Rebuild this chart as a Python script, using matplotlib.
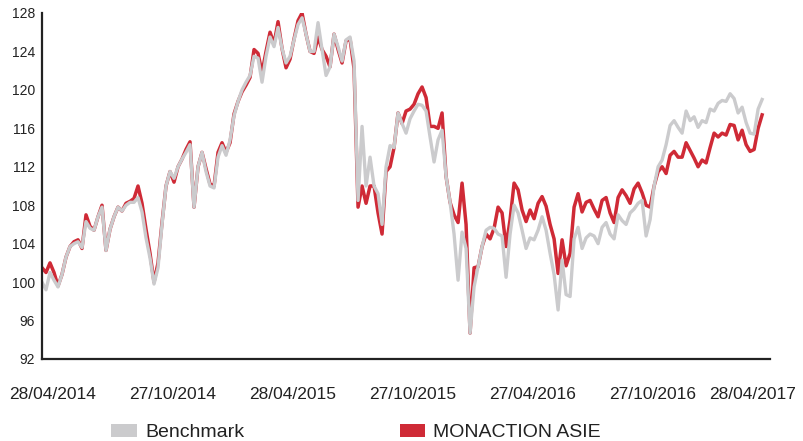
import matplotlib
matplotlib.use("Agg")
import matplotlib.pyplot as plt
import matplotlib.transforms as mtransforms
from matplotlib.patches import Patch
import pandas as pd

plt.rcParams['font.family'] = ['Liberation Sans', 'DejaVu Sans']

# values, one point roughly every 6 days
benchmark = [
    100, 99.2, 101, 100.2, 99.5, 100.8, 102.6, 103.7, 104, 104.2,
    103.6, 106.3, 105.6, 105.4, 106.8, 107.8, 103.3, 105.5, 106.8, 107.8,
    107.4, 108, 108.3, 108.3, 108.8, 107.3, 104.6, 102.5, 99.8, 101.5,
    106, 110, 111.5, 110.8, 112, 112.8, 113.5, 114.3, 107.8, 112,
    113.5, 111.5, 110, 109.8, 113, 114.2, 113.2, 114.8, 117.3, 118.8,
    120, 120.8, 121.5, 123.5, 123.3, 120.8, 123.5, 125.5, 124.5, 126.5,
    124.3, 122.8, 123.5, 125.2, 126.8, 127.5, 125.8, 124, 124, 127,
    124.2, 121.5, 122.4, 125.8, 124.5, 123, 125.2, 125.5, 123, 108.5,
    116.2, 110, 113, 110, 109.2, 106, 112, 114.2, 114, 117.6,
    116.5, 115.5, 117, 117.8, 118.5, 118.4, 117.8, 115.1, 112.5, 114.8,
    115.8, 111, 108.3, 105, 100.2, 105.2, 103.5, 94.7, 99.5, 101.6,
    103.7, 105.4, 105.7, 105.6, 105, 104.8, 100.5, 105, 108, 107.2,
    105.4, 103.5, 104.6, 104.4, 105.4, 106.8, 105.4, 103, 100.8, 97.1,
    102.3, 98.7, 98.5, 104.5, 105.7, 103.5, 104.6, 105, 104.8, 104,
    105.7, 106.2, 105, 104.5, 107, 106.4, 106, 107.2, 107.6, 108.2,
    108.5, 104.8, 106.5, 110, 112, 112.7, 114.3, 116.3, 116.8, 116.1,
    115.5, 117.8, 116.8, 117.2, 116.1, 116.8, 116.6, 118, 117.8, 118.6,
    118.9, 118.8, 119.6, 119.1, 117.6, 118.2, 116.6, 115.5, 115.4, 118,
    119,
]
monaction = [
    101.5, 101, 102, 101, 99.6, 100.8, 102.6, 103.7, 104.2, 104.4,
    103.5, 107, 105.8, 105.4, 106.8, 108, 103.3, 105.5, 106.8, 107.8,
    107.4, 108.2, 108.4, 108.7, 110, 108.2, 105.5, 103, 100, 102,
    106.2, 110, 111.5, 110.4, 112, 112.8, 113.8, 114.6, 107.8, 112,
    113.5, 111.8, 110.2, 110, 113.5, 114.5, 113.5, 114.5, 117.5, 118.8,
    119.8, 120.5, 121.3, 124.2, 123.8, 121.8, 124, 126, 124.8, 127.1,
    124.3, 122.3, 123.2, 125.3, 127.2, 128, 125.8, 124, 123.8, 125.5,
    124.2, 123.5, 122.4, 125.8, 124.2, 122.8, 125.1, 125.3, 122.2, 107.8,
    110, 108.2, 110, 110, 107.2, 105, 111.5, 112, 114, 117.6,
    116.5, 117.8, 118, 118.5, 119.6, 120.3, 119.2, 116.2, 116.2, 116,
    117.6, 111, 108.3, 107, 106.2, 110.3, 106, 94.7, 101.5, 101.6,
    103.7, 105, 104.5, 105.6, 107.8, 107.2, 103.7, 106.5, 110.3, 109.6,
    107.5, 106.3, 107.5, 106.6, 108.2, 108.9, 107.9, 106, 104.5, 100.9,
    104.4, 101.7, 103, 107.8, 109.2, 107.3, 108.3, 108.5, 107.6, 106.8,
    108.5, 108.8, 107.2, 106.2, 108.8, 109.6, 109, 108.2, 109.7, 110.3,
    109.3, 108, 107.8, 110, 111.5, 112, 111.3, 113.2, 113.6, 113,
    113, 114.5, 113.7, 112.9, 112, 112.7, 112.4, 114, 115.5, 115.1,
    115.5, 115.3, 116.4, 116.3, 114.8, 115.8, 114.3, 113.6, 113.8, 116,
    117.4,
]
tick_dates = ['2014-04-28', '2014-10-27', '2015-04-28', '2015-10-27',
              '2016-04-27', '2016-10-27', '2017-04-28']
tick_labels = ['28/04/2014', '27/10/2014', '28/04/2015', '27/10/2015',
               '27/04/2016', '27/10/2016', '28/04/2017']

dates = pd.date_range('2014-04-28', '2017-04-28', periods=len(benchmark))

red = '#cf2a36'
grey = '#cbcbcd'
ink = '#222222'

fig = plt.figure(figsize=(8.04, 4.41), dpi=100)
ax = fig.add_axes([42 / 804, 1 - 359 / 441, 728 / 804, 346 / 441])

ax.plot(dates, monaction, color=red, lw=2.5, solid_joinstyle='round')
ax.plot(dates, benchmark, color=grey, lw=2.4, solid_joinstyle='round')

ax.set_ylim(92, 128)
ax.set_yticks(range(92, 129, 4))
ax.set_xlim(pd.Timestamp('2014-04-28'), pd.Timestamp('2017-05-10'))
ax.set_xticks(pd.to_datetime(tick_dates))
ax.set_xticklabels(tick_labels)

for s in ['top', 'right']:
    ax.spines[s].set_visible(False)
for s in ['left', 'bottom']:
    ax.spines[s].set_color(ink)
    ax.spines[s].set_linewidth(1.6)

ax.tick_params(axis='y', length=0, pad=5, labelsize=10, labelcolor=ink)
ax.tick_params(axis='x', length=0, pad=20, labelsize=12.5, labelcolor=ink)

# labels sit a little right of their dates, the last one is pulled in
for i, lab in enumerate(ax.get_xticklabels()):
    dx = -10 if i == len(tick_labels) - 1 else 11
    lab.set_transform(lab.get_transform() +
                      mtransforms.ScaledTranslation(dx / 100, 0, fig.dpi_scale_trans))

handles = [Patch(facecolor=grey, edgecolor='none', label='Benchmark'),
           Patch(facecolor=red, edgecolor='none', label='MONACTION ASIE')]
fig.legend(handles=handles, loc='lower left', bbox_to_anchor=(94 / 804, -0.04),
           ncol=2, frameon=False, fontsize=14, handlelength=1.3, handleheight=0.65,
           handletextpad=0.42, columnspacing=8.0, labelcolor=ink)

fig.savefig('out.png', dpi=100)
